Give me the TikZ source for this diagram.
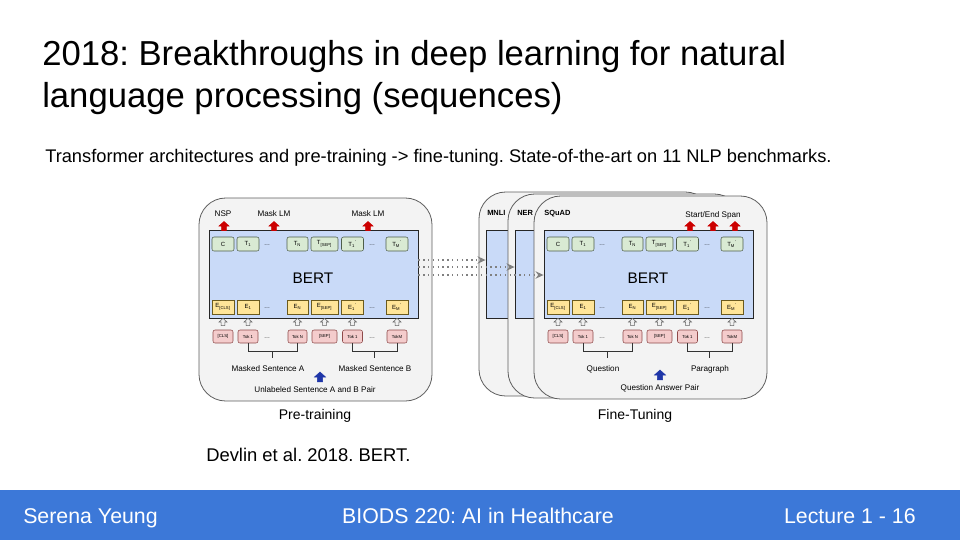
\documentclass[tikz,border=0pt]{standalone}
\usepackage{fontspec}
\setmainfont{Liberation Sans}
\usepackage{tikz}
\usetikzlibrary{calc,fit,arrows.meta}
\frenchspacing

\definecolor{panelgray}{HTML}{F3F3F3}
\definecolor{edgegray}{HTML}{5F5F5F}
\definecolor{bertblue}{HTML}{C9DAF8}
\definecolor{tgreen}{HTML}{D9EAD3}
\definecolor{tedge}{HTML}{4E5E4A}
\definecolor{eyellow}{HTML}{FFE599}
\definecolor{eedge}{HTML}{6B5A1E}
\definecolor{kpink}{HTML}{F4CCCC}
\definecolor{kedge}{HTML}{8E4A4A}
\definecolor{arrred}{HTML}{CC0000}
\definecolor{arrblue}{HTML}{1F36A8}
\definecolor{footblue}{HTML}{3C78D8}

\tikzset{every node/.append style={inner sep=0pt}}
\tikzset{
  panel/.style={draw=edgegray, fill=panelgray, line width=0.6pt, rounded corners=20pt},
  bertbox/.style={draw=black!85, fill=bertblue, line width=0.6pt},
  tok/.style={draw, line width=0.4pt, minimum height=10.5pt, font=\fontsize{4.5}{5}\selectfont},
  tbox/.style={tok, fill=tgreen, draw=tedge, rounded corners=1.5pt},
  ebox/.style={tok, fill=eyellow, draw=eedge},
  kbox/.style={tok, fill=kpink, draw=kedge, rounded corners=1.5pt, font=\fontsize{3.2}{4}\selectfont},
  brk/.style={draw=black!80, line width=0.5pt},
  small/.style={font=\fontsize{6.1}{7}\selectfont},
  tablab/.style={font=\fontsize{5.6}{7}\selectfont\bfseries, anchor=base west},
  dotarr/.style={-{Stealth[length=6pt, width=5.5pt]}, gray, line width=1pt, dash pattern=on 1pt off 2.6pt},
  uparr/.pic={\path[pic actions] (-2.3,4.5) -- (-2.3,0) -- (-5,0) -- (0,-4.5) -- (5,0) -- (2.3,0) -- (2.3,4.5) -- cycle;},
}

% BERT block with its three rows of boxes, named #1-...
\newcommand{\bertcore}[1]{%
  \node[bertbox, fit={(209,230) (418,318)}] (#1-bert) {};
  \node[font=\fontsize{11.5}{14}\selectfont] (#1-name) at (313,278) {BERT};
  \foreach \x/\w/\t/\e/\k [count=\i] in {%
      223/22/C/{E\textsubscript{[CLS]}}/{[CLS]},
      248/22/{T\textsubscript{1}}/{E\textsubscript{1}}/{Tok 1},
      297.5/21/{T\textsubscript{N}}/{E\textsubscript{N}}/{Tok N},
      324.5/27/{T\textsubscript{[SEP]}}/{E\textsubscript{[SEP]}}/{[SEP]},
      352.5/22/{T\textsubscript{1}\textsuperscript{'}}/{E\textsubscript{1}\textsuperscript{'}}/{Tok 1},
      397/22/{T\textsubscript{M}\textsuperscript{'}}/{E\textsubscript{M}\textsuperscript{'}}/{TokM}} {
    \node[tbox, minimum width=\w*0.75pt] (#1-t\i) at (\x,244) {\t};
    \node[ebox, minimum width=\w*0.75pt] (#1-e\i) at (\x,307) {\e};
    \node[kbox, minimum width=(\w-2)*0.75pt, minimum height=9.75pt] (#1-k\i) at (\x,336.5) {\k};
    \pic[fill=gray!12, draw=gray!80!black, line width=0.4pt, scale=0.8] (#1-u\i) at (\x,322) {uparr};
  }
  \foreach \x [count=\i] in {267,372} {
    \node[tok, draw=none] (#1-td\i) at (\x,245) {\dots};
    \node[tok, draw=none] (#1-ed\i) at (\x,308) {\dots};
    \node[tok, draw=none] (#1-kd\i) at (\x,338) {\dots};
  }
  \draw[brk] (#1-k2.south) -- ++(0,8) -| (#1-k3.south);
  \draw[brk] ($(#1-k2.south)!0.5!(#1-k3.south)+(0,8)$) -- ++(0,7);
  \draw[brk] (#1-k5.south) -- ++(0,8) -| (#1-k6.south);
  \draw[brk] ($(#1-k5.south)!0.5!(#1-k6.south)+(0,8)$) -- ++(0,7);
}

\begin{document}
\begin{tikzpicture}[x=0.75pt, y=-0.75pt, >=stealth]
    \useasboundingbox (0,0) rectangle (960,540);
    \fill[white] (0,0) rectangle (960,540);

    % title
    \node[anchor=base west, font=\fontsize{26}{30}\selectfont] (title1) at (42,65) {2018: Breakthroughs in deep learning for natural};
    \node[anchor=base west, font=\fontsize{26}{30}\selectfont] (title2) at (42,107) {language processing (sequences)};
    \node[anchor=base west, font=\fontsize{13.7}{16}\selectfont] (sub) at (45,162) {Transformer architectures and pre-training -> fine-tuning. State-of-the-art on 11 NLP benchmarks.};

    % pre-training
    \draw[panel] (199,198) rectangle (432,401);
    \bertcore{pt}
    \pic[fill=arrred, draw=arrred] (pt-r1) at (224,226) {uparr};
    \pic[fill=arrred, draw=arrred] (pt-r2) at (274,226) {uparr};
    \pic[fill=arrred, draw=arrred] (pt-r3) at (368,226) {uparr};
    \node[small] (pt-nsp) at (223,214) {NSP};
    \node[small] (pt-mlm1) at (274,214) {Mask LM};
    \node[small] (pt-mlm2) at (368,214) {Mask LM};
    \node[small] (pt-sa) at (268,369) {Masked Sentence A};
    \node[small] (pt-sb) at (375,369) {Masked Sentence B};
    \pic[fill=arrblue, draw=arrblue, scale=1.1] (pt-b) at (320,377) {uparr};
    \node[small] (pt-pair) at (315,390) {Unlabeled Sentence A and B Pair};
    \node[font=\fontsize{10.5}{12}\selectfont] (pt-cap) at (315,416) {Pre-training};

    % fine-tuning, stacked
    \draw[panel] (479,192) rectangle (712,396);
    \node[bertbox, fit={(486,230) (695,318)}] (mnli-bert) {};
    \node[tablab] (mnli-lab) at (487,215) {MNLI};
    \draw[panel] (508,194) rectangle (741,398);
    \node[bertbox, fit={(515,230) (724,318)}] (ner-bert) {};
    \node[tablab] (ner-lab) at (517,215) {NER};
    \draw[panel] (534,196) rectangle (767,399);
    \node[tablab] (sq-lab) at (544,215) {SQuAD};
    \begin{scope}[shift={(335,0)}]
        \bertcore{sq}
    \end{scope}
    \pic[fill=arrred, draw=arrred] (sq-r1) at (690,226) {uparr};
    \pic[fill=arrred, draw=arrred] (sq-r2) at (713,226) {uparr};
    \pic[fill=arrred, draw=arrred] (sq-r3) at (735,226) {uparr};
    \node[small] (sq-span) at (713,215) {Start/End Span};
    \node[small] (sq-q) at (603,369) {Question};
    \node[small] (sq-p) at (710,369) {Paragraph};
    \pic[fill=arrblue, draw=arrblue, scale=1.1] (sq-b) at (660,375) {uparr};
    \node[small] (sq-pair) at (660,388) {Question Answer Pair};
    \node[font=\fontsize{10.5}{12}\selectfont] (sq-cap) at (635,416) {Fine-Tuning};

    \draw[dotarr] ($(pt-bert.east)+(0,-14)$) -- ($(mnli-bert.west)+(0,-14)$);
    \draw[dotarr] ($(pt-bert.east)+(0,-7)$) -- ($(ner-bert.west)+(0,-7)$);
    \draw[dotarr] ($(pt-bert.east)+(0,1)$) -- ($(sq-bert.west)+(0,1)$);

    \node[anchor=base west, font=\fontsize{13.8}{16}\selectfont] (cite) at (206,461) {Devlin et al. 2018. BERT.};

    % footer
    \fill[footblue] (0,490) rectangle (960,540);
    \node[anchor=base west, white, font=\fontsize{16}{19}\selectfont] (foot1) at (23,523) {Serena Yeung};
    \node[anchor=base, white, font=\fontsize{16}{19}\selectfont] (foot2) at (478,523) {BIODS 220: AI in Healthcare};
    \node[anchor=base east, white, font=\fontsize{16}{19}\selectfont] (foot3) at (916,523) {Lecture 1 - 16};
\end{tikzpicture}
\end{document}
